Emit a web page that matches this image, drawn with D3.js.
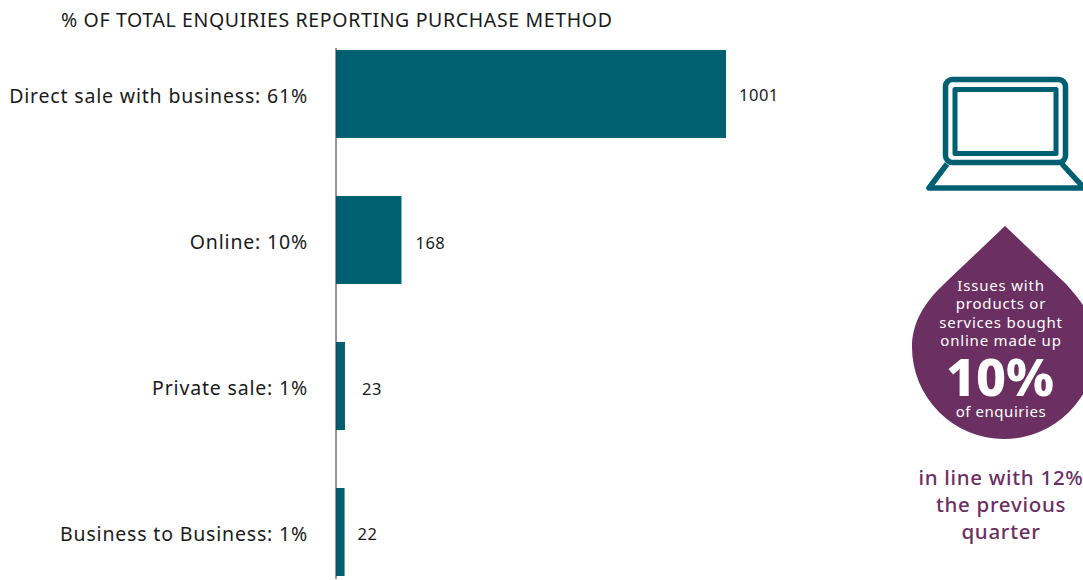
<!DOCTYPE html>
<html><head><meta charset="utf-8"><script src="https://cdn.jsdelivr.net/npm/d3@7"></script>
<style>html,body{margin:0;padding:0;background:#fff}svg{display:block}text{font-family:"Noto Sans",sans-serif}</style></head>
<body><svg id="c" width="1083" height="580"></svg>
<script>
const categories=["Direct sale with business: 61%","Online: 10%","Private sale: 1%","Business to Business: 1%"];
const values=[1001,168,23,22];
const title="% OF TOTAL ENQUIRIES REPORTING PURCHASE METHOD";
const dropLines=["Issues with","products or","services bought","online made up"];
const dropBig="10%";
const dropEnd="of enquiries";
const noteLines=["in line with 12%","the previous","quarter"];
const teal="#006072",purple="#6b2f61",ink="#1a1a1a";
const svg=d3.select("#c");
const x=d3.scaleLinear().domain([0,1001]).range([336,726]);
const y=d3.scaleBand().domain(categories).range([50,576]).paddingInner(58/146).paddingOuter(0);
svg.append("text").attr("x",61).attr("y",27).attr("font-size",19.5).attr("letter-spacing",0.64).attr("fill",ink).text(title);
svg.selectAll("rect.b").data(values).join("rect").attr("class","b").attr("x",x(0)).attr("y",(d,i)=>y(categories[i])).attr("width",d=>x(d)-x(0)).attr("height",y.bandwidth()).attr("fill",teal);
svg.append("g").attr("transform","translate(336,0)").call(d3.axisLeft(y).tickSize(0).tickPadding(28)).call(g=>{g.select(".domain").attr("stroke","#333").attr("d","M0,48V579");g.selectAll("text").attr("font-size",19.5).attr("letter-spacing",0.82).attr("dy","0.48em").attr("fill",ink).attr("font-family",'"Noto Sans",sans-serif')});
svg.selectAll("text.v").data(values).join("text").attr("class","v").attr("x",(d,i)=>x(d)+[13,14,17,13][i]).attr("y",(d,i)=>y(categories[i])+y.bandwidth()/2+[7,9,9,8][i]).attr("font-size",16.5).attr("letter-spacing",0.5).attr("fill",ink).text(d=>d);
const ic=svg.append("g").attr("fill","none").attr("stroke",teal).attr("stroke-linejoin","round");
ic.append("rect").attr("x",945.5).attr("y",79.5).attr("width",120).attr("height",83).attr("rx",7).attr("stroke-width",5.5);
ic.append("rect").attr("x",955).attr("y",89.5).attr("width",101).attr("height",64).attr("stroke-width",5);
ic.append("path").attr("d","M947,164L929,188H1084L1062,164").attr("stroke-width",5.5);
svg.append("path").attr("fill",purple).attr("d","M1005,226L944,284C925,302 912,322 912,347A92,92 0 0 0 1096,347C1096,322 1083,302 1066,284Z");
const t=svg.append("g").attr("text-anchor","middle").attr("fill","#fff");
dropLines.forEach((s,i)=>t.append("text").attr("x",1001).attr("y",291+i*18.3).attr("font-size",15).attr("letter-spacing",0.8).text(s));
t.append("text").attr("x",1000).attr("y",396).attr("font-size",52).attr("font-weight",800).text(dropBig);
t.append("text").attr("x",1001).attr("y",417).attr("font-size",15).attr("letter-spacing",0.55).text(dropEnd);
noteLines.forEach((s,i)=>svg.append("text").attr("x",1001).attr("y",485+i*27).attr("text-anchor","middle").attr("font-size",20.5).attr("letter-spacing",0.7).attr("font-weight",500).attr("fill",purple).text(s));
</script></body></html>
